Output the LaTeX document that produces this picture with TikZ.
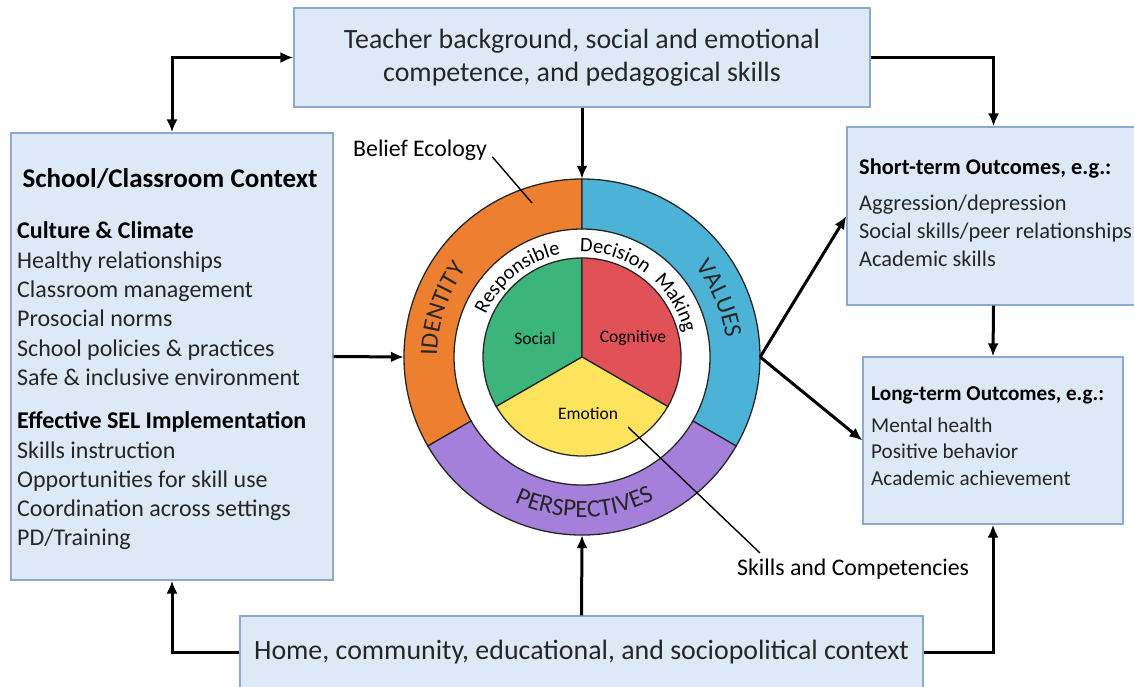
\documentclass[tikz,border=0pt]{standalone}
\usepackage{fontspec}
\setmainfont{Carlito}
\usepackage{tikz}
\usetikzlibrary{arrows.meta,decorations.text,positioning}

\definecolor{boxfill}{RGB}{221,233,246}
\definecolor{boxline}{RGB}{140,170,205}
\definecolor{idorange}{RGB}{236,128,48}
\definecolor{valblue}{RGB}{76,179,214}
\definecolor{perspurple}{RGB}{164,128,219}
\definecolor{socgreen}{RGB}{60,181,124}
\definecolor{cogred}{RGB}{224,82,88}
\definecolor{emoyellow}{RGB}{253,228,92}

\newcommand\ringfont{\fontsize{25}{29}\selectfont}
\newcommand\rdmfont{\fontsize{20.5}{24}\selectfont}

\begin{document}
\begin{tikzpicture}[x=1pt, y=1pt, >={Latex[length=13pt,width=11pt]}]
		\tikzstyle{Box}		= [draw=boxline, fill=boxfill, line width=1.2pt, inner sep=0pt]
		\tikzstyle{Big}		= [font=\fontsize{27.9}{33}\selectfont, text=black!85, align=center]
		\tikzstyle{Item}	= [font=\fontsize{24}{28}\selectfont, text=black!85, anchor=base west, inner sep=0pt]
		\tikzstyle{Head}	= [font=\fontsize{24}{28}\selectfont\bfseries, anchor=base west, inner sep=0pt]
		\tikzstyle{Label}	= [font=\fontsize{23.8}{28}\selectfont, anchor=base west, inner sep=0pt]
		\tikzstyle{PieLabel}	= [font=\fontsize{17.5}{20}\selectfont]
		\tikzstyle{Edge}	= [draw=black!85, line width=1.3pt]
		\tikzstyle{Arrow}	= [line width=3pt, ->]
		\tikzstyle{Pointer}	= [line width=1.4pt]

		\useasboundingbox (0,0) rectangle (1134,686);

		% boxes
		\node (teacher) at (582, 628.5) [Box][Big, minimum width=576, minimum height=99] {Teacher background, social and emotional\\competence, and pedagogical skills};
		\node (ctx) at (172, 329.5) [Box, minimum width=322, minimum height=447] {};
		\node (short) at (993.5, 470) [Box, minimum width=293, minimum height=178] {};
		\node (long) at (993, 245.5) [Box, minimum width=260, minimum height=167] {};
		\node (home) at (581.5, 34) [Box][Big, minimum width=683, minimum height=72] {Home, community, educational, and sociopolitical context};

		% school / classroom context
		\node (ctxtitle) at (170, 498) [font=\fontsize{27}{31}\selectfont\bfseries, anchor=base, inner sep=0pt] {School/Classroom Context};
		\node (culture) at (17, 447) [Head] {Culture \& Climate};
		\foreach \txt [count=\i from 0] in {Healthy relationships, Classroom management, Prosocial norms, School policies \& practices, Safe \& inclusive environment}
			\node (cc\i) at (17, {417-29*\i}) [Item] {\txt};
		\node (sel) at (17, 258) [Head] {Effective SEL Implementation};
		\foreach \txt [count=\i from 0] in {Skills instruction, Opportunities for skill use, Coordination across settings, PD/Training}
			\node (sel\i) at (17, {228-29*\i}) [Item] {\txt};

		% outcomes
		\node (shorthead) at (859, 511) [Head, font=\fontsize{22.4}{26}\selectfont\bfseries] {Short-term Outcomes, e.g.:};
		\foreach \txt [count=\i from 0] in {Aggression/depression, Social skills/peer relationships, Academic skills}
			\node (so\i) at (859, {475-28*\i}) [Item, font=\fontsize{22.4}{26}\selectfont] {\txt};
		\node (longhead) at (871, 286) [Head, font=\fontsize{21.2}{25}\selectfont\bfseries] {Long-term Outcomes, e.g.:};
		\foreach \txt [count=\i from 0] in {Mental health, Positive behavior, Academic achievement}
			\node (lo\i) at (871, {254-26.5*\i}) [Item, font=\fontsize{21.2}{25}\selectfont] {\txt};

		% belief ecology ring
		\node (ring) at (582, 329) [circle, minimum size=356, inner sep=0pt] {};
		\foreach \a/\b/\col in {90/210/idorange, -30/90/valblue, 210/330/perspurple}
			\filldraw[fill=\col, Edge] (ring.center) ++(\a:128) arc[start angle=\a, end angle=\b, radius=128] -- ++(\b:50) arc[start angle=\b, end angle=\a, radius=178] -- cycle;
		\foreach \a/\b/\col in {90/210/socgreen, -30/90/cogred, 210/330/emoyellow}
			\filldraw[fill=\col, Edge] (ring.center) -- ++(\a:99) arc[start angle=\a, end angle=\b, radius=99] -- cycle;

		\path[decorate, decoration={text along path, text align=center, text color=black!85, text={|\ringfont|IDENTITY}}] (ring.center) ++(215:145) arc[start angle=215, end angle=107, radius=145];
		\path[decorate, decoration={text along path, text align=center, text color=black!85, text={|\ringfont|VALUES}}] (ring.center) ++(77:145) arc[start angle=77, end angle=-31, radius=145];
		\path[decorate, decoration={text along path, text align=center, text color=black!85, text={|\ringfont|PERSPECTIVES}}] (ring.center) ++(211:160) arc[start angle=211, end angle=331, radius=160];

		\path[decorate, decoration={text along path, text align=center, text={|\rdmfont|Responsible}}] (ring.center) ++(172:105) arc[start angle=172, end angle=86, radius=105];
		\path[decorate, decoration={text along path, text align=center, text={|\rdmfont|Decision}}] (ring.center) ++(100:105) arc[start angle=100, end angle=44, radius=105];
		\path[decorate, decoration={text along path, text align=center, text={|\rdmfont|Making}}] (ring.center) ++(58:105) arc[start angle=58, end angle=2, radius=105];

		\node (social) at (535, 348) [PieLabel] {Social};
		\node (cognitive) at (633, 348) [PieLabel] {Cognitive};
		\node (emotion) at (588, 272) [PieLabel] {Emotion};

		% labels
		\node (belief) at (353, 529) [Label] {Belief Ecology};
		\coordinate (beliefpt) at (532, 483);
		\draw[Pointer, shorten <=8pt] (belief.east) -- (beliefpt);
		\node (skills) at (737, 111) [Label] {Skills and Competencies};
		\coordinate (emopt) at (628, 259);
		\coordinate (skillspt) at (760, 133);
		\draw[Pointer] (emopt) -- (skillspt);

		% arrows
		\draw[Arrow, <->] (teacher.west) -| (ctx.north);
		\draw[Arrow] (teacher.east) -| (short.north);
		\draw[Arrow] (teacher.south) -- (ring.north);
		\draw[Arrow] (ctx.east) -- (ring.west);
		\draw[Arrow] (ring.east) -- (short.west);
		\draw[Arrow] (ring.east) -- (long.west);
		\draw[Arrow] (short.south) -- (long.north);
		\draw[Arrow] (home.north) -- (ring.south);
		\draw[Arrow] (home.west) -| (ctx.south);
		\draw[Arrow] (home.east) -| (long.south);
	\end{tikzpicture}
\end{document}
